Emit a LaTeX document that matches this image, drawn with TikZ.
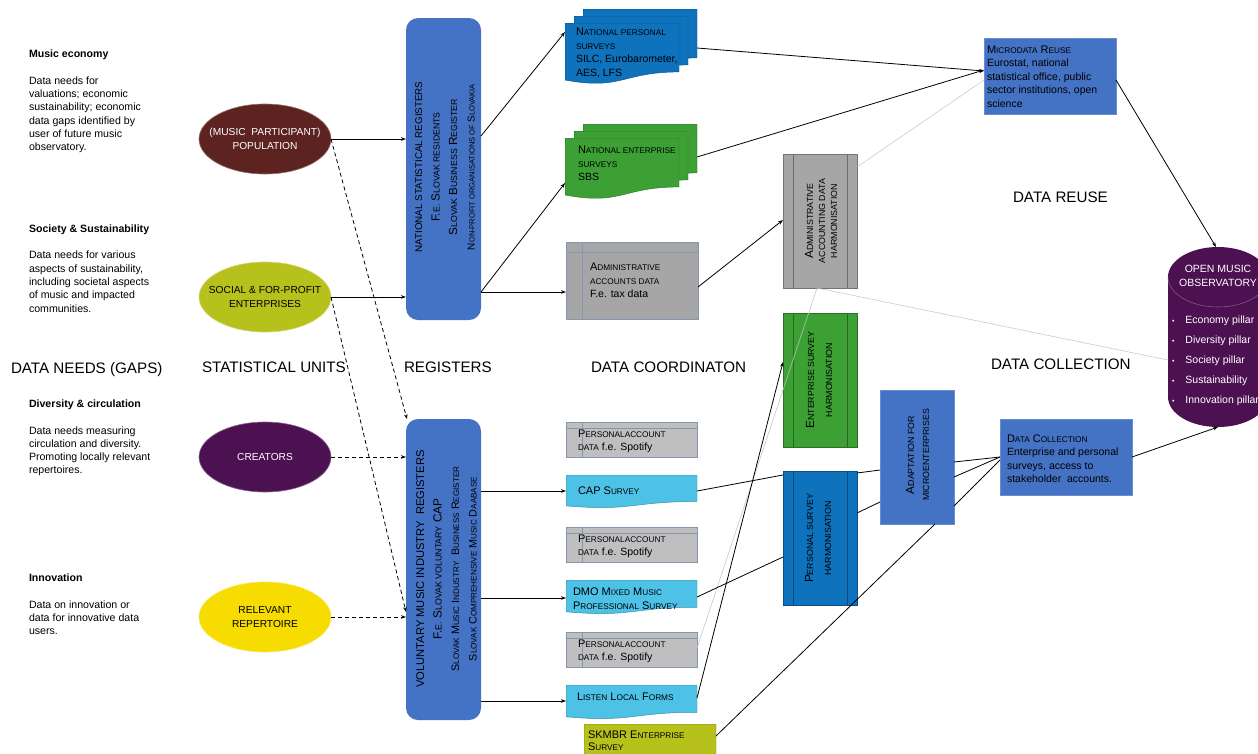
\documentclass[tikz,border=0pt]{standalone}
\usepackage{fontspec}
\setmainfont{Liberation Sans}
\usetikzlibrary{shapes.geometric,arrows.meta,calc}

\definecolor{regblue}{HTML}{4472C4}
\definecolor{docblue}{HTML}{0F72BC}
\definecolor{sgreen}{HTML}{3DA035}
\definecolor{scyan}{HTML}{4DC1E6}
\definecolor{solive}{HTML}{B6C21B}
\definecolor{spurp}{HTML}{4B1151}
\definecolor{sbrown}{HTML}{5C2320}
\definecolor{syell}{HTML}{F6DC00}
\definecolor{gray1}{HTML}{A6A6A6}
\definecolor{gray2}{HTML}{BFBFBF}
\definecolor{stline}{HTML}{8496B0}
\definecolor{lgray}{HTML}{C4C4C4}

\makeatletter
\newdimen\lscdim
\newcommand\lsc[1]{{\lscdim=\f@size pt\lscdim=0.75\lscdim\fontsize{\strip@pt\lscdim}{\f@baselineskip}\selectfont\MakeUppercase{#1}}}
\makeatother
\newcommand\plaintx[1]{{\fontsize{10.5}{13.5}\selectfont #1}}
\newcommand\fsz[1]{\fontsize{#1}{17.5}\selectfont}

\newcommand\docfill[5]{%
  \coordinate (dfa) at (#1); \coordinate (dfb) at (#2);
  \coordinate (dfc) at (#3); \coordinate (dfd) at (#4);
  \coordinate (dftm) at ($(dfa)!0.5!(dfb)$);
  \coordinate (dfbm) at ($(dfc)!0.5!(dfd)$);
  \filldraw[#5] (dfa) -- (dfb) -- ($(dfb)!0.802!(dfd)$) .. controls ($(dftm)!0.802!(dfbm)$) and ($(dftm)!1.1075!(dfbm)$) .. ($(dfa)!0.934!(dfc)$) -- cycle;}

\tikzset{
  every node/.style={inner sep=0pt, outer sep=0pt},
  needs/.style={anchor=west, align=left, font=\fontsize{10.6}{13.3}\selectfont},
  head/.style={anchor=west, font=\fontsize{15.2}{18}\selectfont},
  sunit/.style={ellipse, minimum width=132pt, minimum height=70pt, inner xsep=-12pt, inner ysep=-4pt, fill=#1, draw=#1!65!white, line width=0.6pt, align=center, font=\fontsize{10.2}{13.5}\selectfont},
  regbox/.style={rectangle, rounded corners=12pt, fill=regblue, minimum width=75pt},
  regtxt/.style={rotate=90, align=center, font=\fontsize{9.8}{17.5}\selectfont},
  docshape/.style={rectangle, path picture={\docfill{path picture bounding box.north west}{path picture bounding box.north east}{path picture bounding box.south west}{path picture bounding box.south east}{fill=#1, draw=#1!75!black, line width=0.5pt}}},
  storage/.style={rectangle, fill=#1, draw=stline, line width=0.6pt},
  stlines/.style={path picture={\draw[stline, line width=0.6pt] ([xshift=16pt]path picture bounding box.north west) -- ([xshift=16pt]path picture bounding box.south west) ([yshift=-#1pt]path picture bounding box.north west) -- ([yshift=-#1pt]path picture bounding box.north east);}},
  pproc/.style={rectangle, fill=#1, draw=#1!70!black, line width=0.6pt, minimum width=74pt, minimum height=134pt, path picture={\draw[#1!65!black, line width=0.6pt] ([xshift=10pt]path picture bounding box.north west) -- ([xshift=10pt]path picture bounding box.south west) ([xshift=-10pt]path picture bounding box.north east) -- ([xshift=-10pt]path picture bounding box.south east);}},
  bluebox/.style={rectangle, fill=regblue, draw=regblue!80!white, line width=0.5pt},
  mtxt/.style={anchor=west, align=left, font=\fontsize{11}{13.5}\selectfont},
  rtxt/.style={rotate=90, align=center, font=\fontsize{11.8}{#1}\selectfont},
  con/.style={line width=0.8pt, draw=black},
  arr/.style={con, -{Stealth[length=5pt,width=3.6pt]}},
  dsh/.style={arr, dash pattern=on 4pt off 3pt},
  gcon/.style={line width=0.5pt, draw=lgray},
}

\begin{document}
\begin{tikzpicture}[x=1pt,y=-1pt]
\useasboundingbox (0,0) rectangle (1258,753);
\fill[white] (0,0) rectangle (1258,753);
\begin{scope}
\clip (0,0) rectangle (1258,753);

% ---------- column headings ----------
\node[head] (hneeds) at (11,369.5) {DATA NEEDS (GAPS)};
\node[head] (hunits) at (202,367.5) {STATISTICAL UNITS};
\node[head] (hreg) at (404,367.5) {REGISTERS};
\node[head] (hcoord) at (591,367.5) {DATA COORDINATON};
\node[head] (hreuse) at (1013,197) {DATA REUSE};
\node[head] (hcoll) at (991,364) {DATA COLLECTION};

% ---------- data needs ----------
\node[needs] (n1) at (29,101.5) {\textbf{Music economy}\\[13.3pt]Data needs for\\valuations; economic\\sustainability; economic\\data gaps identified by\\user of future music\\observatory.};
\node[needs] (n2) at (29,268.5) {\textbf{Society \& Sustainability}\\[13.3pt]Data needs for various\\aspects of sustainability,\\including societal aspects\\of music and impacted\\communities.};
\node[needs] (n3) at (29,438) {\textbf{Diversity \& circulation}\\[13.3pt]Data needs measuring\\circulation and diversity.\\Promoting locally relevant\\repertoires.};
\node[needs] (n4) at (29,604.5) {\textbf{Innovation}\\[13.3pt]Data on innovation or\\data for innovative data\\users.};

% ---------- statistical units ----------
\node[sunit=sbrown, text=white] (pop) at (265,139) {(MUSIC\ \ PARTICIPANT)\\POPULATION};
\node[sunit=solive] (soc) at (265,297) {SOCIAL \& FOR-PROFIT\\ENTERPRISES};
\node[sunit=spurp, text=white] (cre) at (265,457) {CREATORS};
\node[sunit=syell] (rep) at (265,617) {RELEVANT\\REPERTOIRE};

% ---------- registers ----------
\node[regbox, minimum height=302pt] (reg1) at (443.5,169) {};
\node[regtxt] (reg1t) at (445,167) {NATIONAL STATISTICAL REGISTERS\\{\fsz{11.7}F.\lsc{e.} S\lsc{lovak residents}}\\{\fsz{11.7}S\lsc{lovak} B\lsc{usiness} R\lsc{egister}}\\{\fsz{10}N\lsc{on-profit organisations of} S\lsc{lovakia}}};
\node[regbox, minimum height=301pt] (reg2) at (443.5,569.5) {};
\node[regtxt] (reg2t) at (446.5,569) {{\fsz{11.2}VOLUNTARY MUSIC INDUSTRY\ \ REGISTERS}\\{\fsz{11.8}F.\lsc{e.} S\lsc{lovak voluntary} CAP}\\{\fsz{10.8}S\lsc{lovak} M\lsc{usic} I\lsc{ndustry}\ \ B\lsc{usiness} R\lsc{egister}}\\{\fsz{10.8}S\lsc{lovak} C\lsc{omprehensive} M\lsc{usic} D\lsc{aabase}}};

% ---------- data coordination ----------
\node[docshape=docblue, minimum width=114pt, minimum height=61pt] (nps3) at (640,39.5) {};
\node[docshape=docblue, minimum width=114pt, minimum height=61pt] (nps2) at (631,46.5) {};
\node[docshape=docblue, minimum width=114pt, minimum height=61pt] (nps) at (622,53.5) {};
\node[mtxt] (npst) at (576,53) {N\lsc{ational personal}\\\lsc{surveys}\\\plaintx{SILC, Eurobarometer,}\\\plaintx{AES, LFS}};

\node[docshape=sgreen, minimum width=114pt, minimum height=61pt] (nes3) at (640,154.5) {};
\node[docshape=sgreen, minimum width=114pt, minimum height=61pt] (nes2) at (631,161.5) {};
\node[docshape=sgreen, minimum width=114pt, minimum height=61pt] (nes) at (622,168.5) {};
\node[mtxt] (nest) at (578,163.5) {N\lsc{ational enterprise}\\\lsc{surveys}\\\plaintx{SBS}};

\node[storage=gray1, stlines=10, minimum width=132pt, minimum height=77pt] (adm) at (632,280.5) {};
\node[mtxt] (admt) at (590,280.5) {A\lsc{dministrative}\\\lsc{accounts data}\\\plaintx{F.e. tax data}};

\node[storage=gray2, stlines=6, minimum width=131pt, minimum height=35pt] (pa1) at (631.5,439.5) {};
\node[mtxt] (pa1t) at (578,441.5) {P\lsc{ersonalaccount}\\\lsc{data} \plaintx{f.e. Spotify}};
\node[docshape=scyan, minimum width=131pt, minimum height=33pt] (cap) at (631.5,491.5) {};
\node[mtxt] (capt) at (578,491) {CAP S\lsc{urvey}};
\node[storage=gray2, stlines=6, minimum width=131pt, minimum height=35pt] (pa2) at (631.5,545) {};
\node[mtxt] (pa2t) at (578,546.5) {P\lsc{ersonalaccount}\\\lsc{data} \plaintx{f.e. Spotify}};
\node[docshape=scyan, minimum width=131pt, minimum height=34pt] (dmo) at (631.5,597) {};
\node[mtxt] (dmot) at (573,598.5) {DMO M\lsc{ixed} M\lsc{usic}\\P\lsc{rofessional} S\lsc{urvey}};
\node[storage=gray2, stlines=6, minimum width=131pt, minimum height=35pt] (pa3) at (631.5,650) {};
\node[mtxt] (pa3t) at (578,651.5) {P\lsc{ersonalaccount}\\\lsc{data} \plaintx{f.e. Spotify}};
\node[docshape=scyan, minimum width=131pt, minimum height=34pt] (ll) at (631.5,702) {};
\node[mtxt] (llt) at (577,697) {L\lsc{isten} L\lsc{ocal} F\lsc{orms}};
\node[docshape=solive, minimum width=132pt, minimum height=40pt] (skm) at (650,744) {};
\node[mtxt, font=\fontsize{11}{12}\selectfont] (skmt) at (588,740.5) {SKMBR E\lsc{nterprise}\\S\lsc{urvey}};

% ---------- harmonisation ----------
\node[pproc=gray1] (h1) at (820,221) {};
\node[rtxt=12] (h1t) at (821,221) {A\lsc{dministrative}\\\lsc{accounting data}\\\lsc{harmonisation}};
\node[pproc=sgreen] (h2) at (820,380) {};
\node[rtxt=18] (h2t) at (819,380) {E\lsc{nterprise survey}\\\lsc{harmonisation}};
\node[pproc=docblue] (h3) at (820,538.5) {};
\node[rtxt=18] (h3t) at (818,538.5) {P\lsc{ersonal survey}\\\lsc{harmonisation}};
\node[bluebox, minimum width=74pt, minimum height=134pt] (ad) at (917,457) {};
\node[rtxt=15] (adt) at (917.5,455) {A\lsc{daptation for}\\\lsc{microenterprises}};

% ---------- reuse / collection ----------
\node[bluebox, minimum width=132pt, minimum height=76pt] (mr) at (1050,76) {};
\node[mtxt] (mrt) at (987,76.5) {M\lsc{icrodata} R\lsc{euse}\\\plaintx{Eurostat, national}\\\plaintx{statistical office, public}\\\plaintx{sector institutions, open}\\\plaintx{science}};
\node[bluebox, minimum width=132pt, minimum height=76pt] (dc) at (1066,457) {};
\node[mtxt] (dct) at (1007,458.5) {D\lsc{ata} C\lsc{ollection}\\\plaintx{Enterprise and personal}\\\plaintx{surveys, access to}\\\plaintx{stakeholder\ \ accounts.}};

% ---------- open music observatory (cylinder) ----------
\node[minimum width=100pt, minimum height=180pt] (omo) at (1218,337) {};
\fill[spurp] (1168,277) arc[start angle=180, end angle=0, x radius=50pt, y radius=30pt] -- (1268,397) arc[start angle=0, end angle=-180, x radius=50pt, y radius=30pt] -- cycle;
\draw[spurp!70!white, line width=0.6pt] (1168,277) arc[start angle=180, end angle=360, x radius=50pt, y radius=30pt];
\node[align=center, text=white, font=\fontsize{10.5}{14}\selectfont] (omot) at (1218,276) {OPEN MUSIC\\OBSERVATORY};
\node[anchor=west, align=left, text=white, font=\fontsize{10.5}{20}\selectfont] (omob) at (1172,361) {{\fontsize{7}{7}\selectfont\textbullet}\hspace{11pt}Economy pillar\\{\fontsize{7}{7}\selectfont\textbullet}\hspace{11pt}Diversity pillar\\{\fontsize{7}{7}\selectfont\textbullet}\hspace{11pt}Society pillar\\{\fontsize{7}{7}\selectfont\textbullet}\hspace{11pt}Sustainability\\{\fontsize{7}{7}\selectfont\textbullet}\hspace{11pt}Innovation pillar};

% ---------- connectors ----------
\draw[arr] (pop.east) -- (reg1.west |- pop.east);
\draw[arr] (soc.east) -- (reg1.west |- soc.east);
\draw[dsh] (pop.east) -- ([xshift=1pt]reg2.north west);
\draw[dsh] (soc.east) -- (reg2.west |- 0,612);
\draw[dsh] (cre.east) -- (reg2.west |- cre.east);
\draw[dsh] (rep.east) -- (reg2.west |- rep.east);

\draw[arr] (reg1.east |- 0,136) -- (nps.west |- 0,32);
\draw[arr] (reg1.east |- 0,292) -- (nes.west |- 0,183);
\draw[arr] (reg1.east |- 0,292) -- (adm.west |- 0,292);
\draw[arr] (reg2.east |- 0,491) -- (cap.west |- 0,491);
\draw[arr] (reg2.east |- 0,598) -- (dmo.west |- 0,598);
\draw[arr] (reg2.east |- 0,701) -- (ll.west |- 0,701);

\draw[arr] (nps3.east |- 0,48) -- (mr.west |- 0,71);
\draw[arr] (nes3.east |- 0,157) -- (mr.west |- 0,70);
\draw[arr] (adm.east |- 0,287) -- (h1.west |- 0,220);
\draw[gcon] (h1.east |- 0,167) -- (mr.west |- 0,80);
\draw[gcon] (pa3.east |- 0,648) -- ([xshift=-3pt]h1.south);
\draw[gcon] ([xshift=-3pt]h1.south) -- (omo.west |- 0,360);
\draw[arr] (ll.east |- 0,698) -- (h2.west |- 0,362);
\draw[con] (cap.east |- 0,491) -- (h3.west |- 0,475);
\draw[con] (dmo.east |- 0,597) -- (h3.west |- 0,557);
\draw[con] (h3.east |- 0,473) -- (ad.west |- 0,470);
\draw[con] (h3.east |- 0,513) -- (ad.west |- 0,502);
\draw[con] (skm.east |- 0,736) -- (ad.south -| 935,0);
\draw[con] (ad.east |- 0,462) -- (dc.west |- 0,457);
\draw[con] (ad.east |- 0,477) -- (dc.west |- 0,457);
\draw[con] (ad.east |- 0,506) -- (dc.west |- 0,460);
\draw[arr] (mr.east |- 0,80) -- ([xshift=-2pt]omo.north);
\draw[arr] (dc.east) -- (omo.south);
\end{scope}
\end{tikzpicture}
\end{document}
